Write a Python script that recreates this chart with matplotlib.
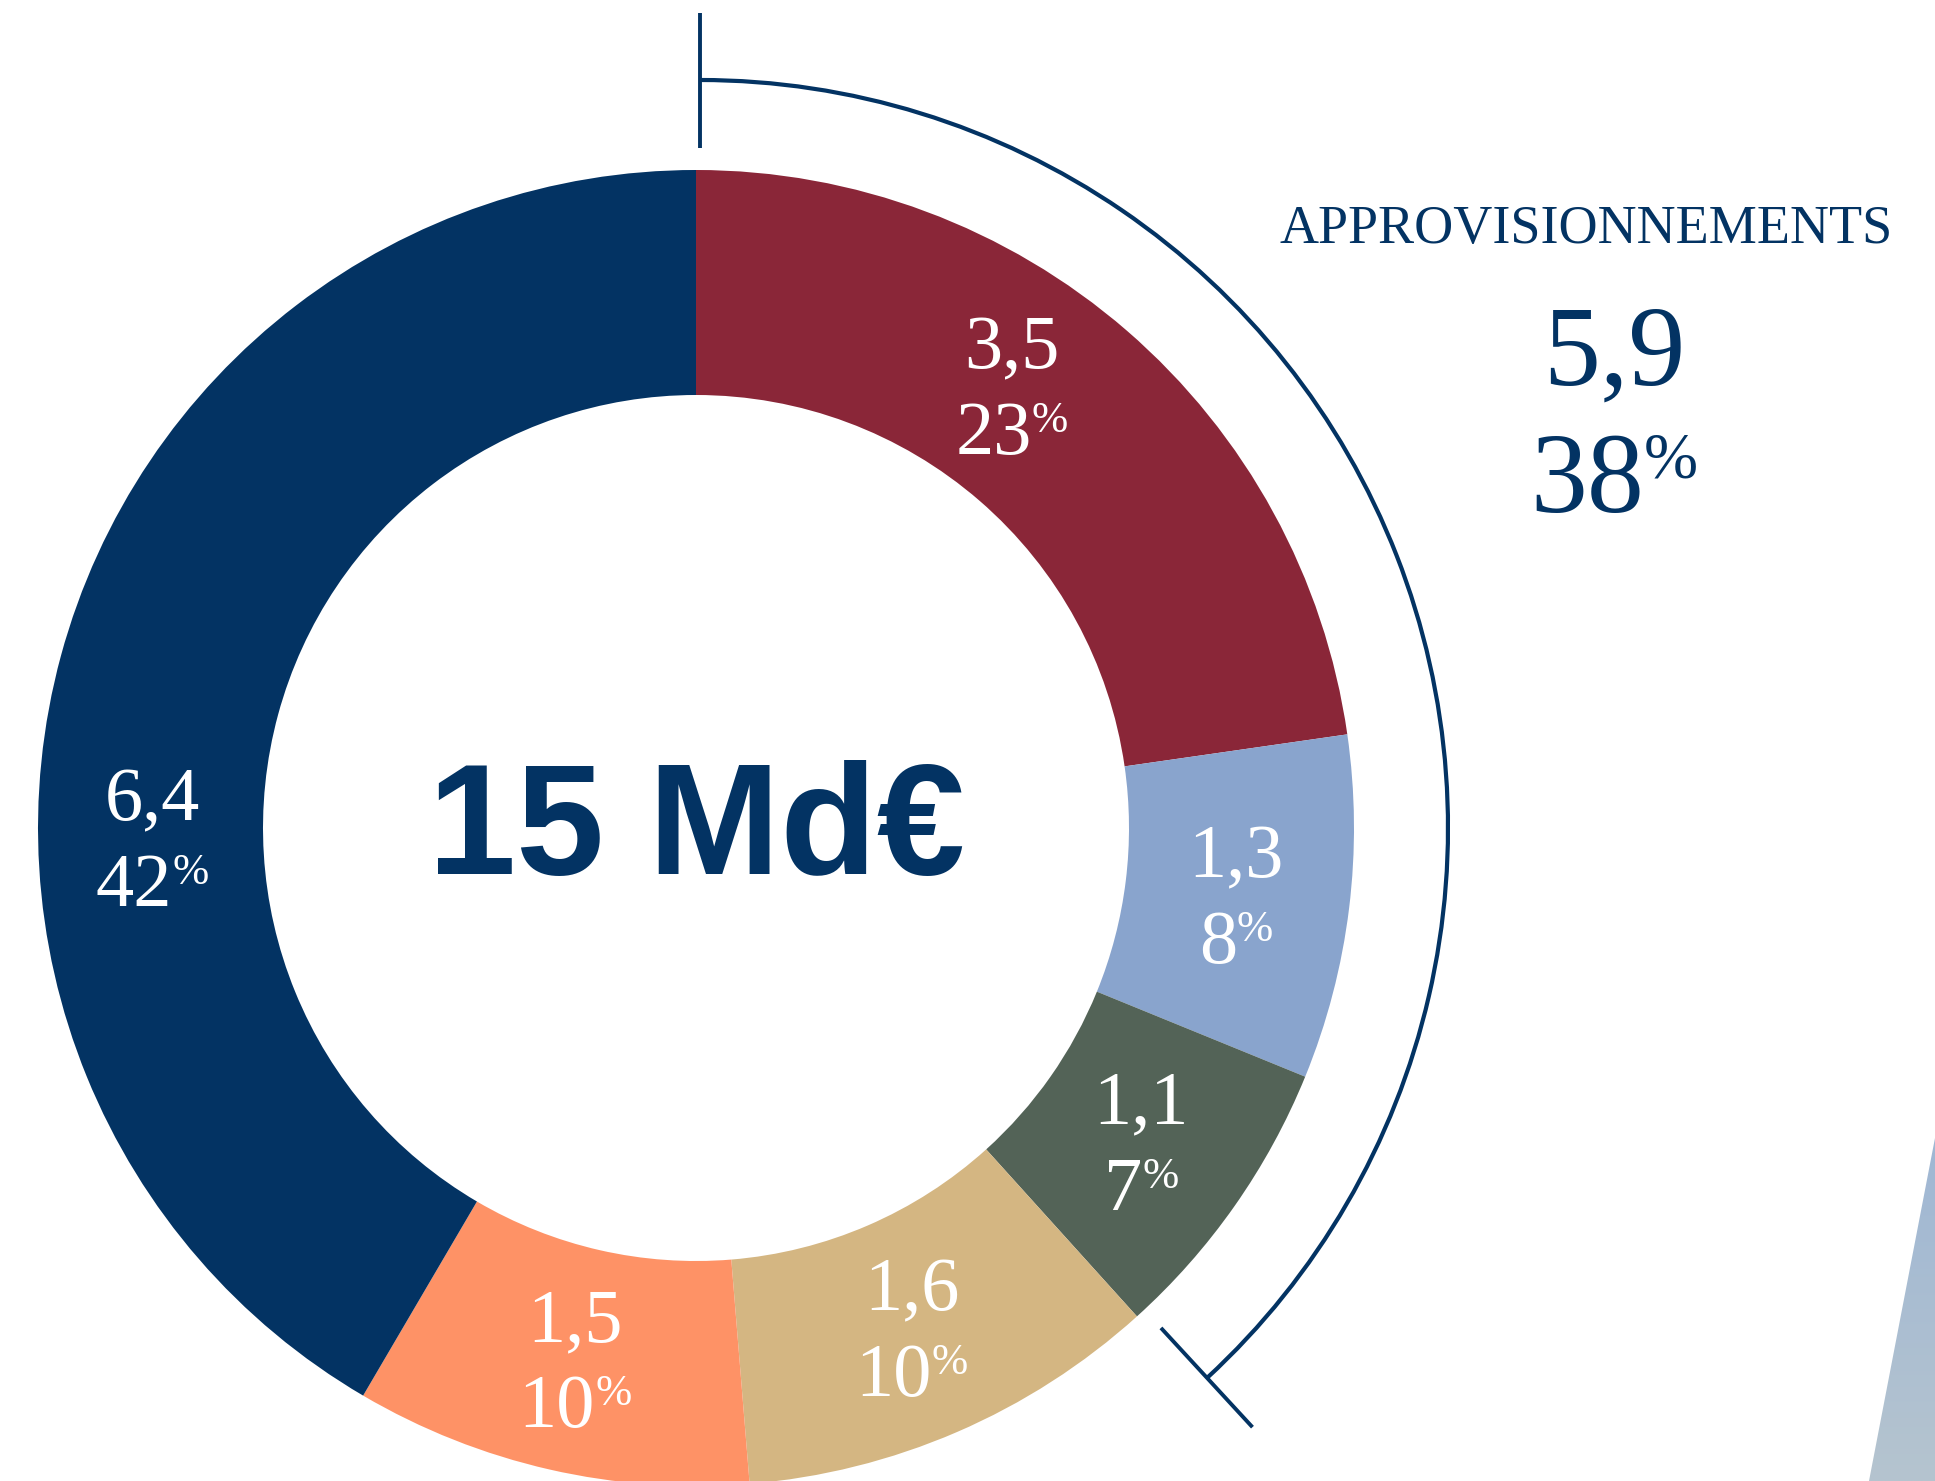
import numpy as np
import matplotlib
matplotlib.use("Agg")
import matplotlib.pyplot as plt
from matplotlib.patches import Arc, Polygon
from matplotlib.colors import LinearSegmentedColormap

plt.rcParams['font.family'] = ['Liberation Serif', 'DejaVu Serif']

# data (Md€)
categories = ["a", "b", "c", "d", "e", "f"]
values = [3.5, 1.3, 1.1, 1.6, 1.5, 6.4]
value_labels = ["3,5", "1,3", "1,1", "1,6", "1,5", "6,4"]
pct_labels = ["23", "8", "7", "10", "10", "42"]
colors = ["#8a2638", "#89a4cd", "#536357", "#d4b682", "#fe9266", "#033363"]
total_label = "15 Md€"
group_title = "APPROVISIONNEMENTS"
group_value = "5,9"
group_pct = "38"
group_size = 3  # first three slices

NAVY = "#033363"
W, H = 1935, 1481

fig = plt.figure(figsize=(W / 100, H / 100), dpi=100)
ax = fig.add_axes([0, 0, 1, 1])

cx, cy = 696, 653
r_out, r_in = 658, 433

wedges, _ = ax.pie(values, colors=colors, startangle=90, counterclock=False,
                   radius=r_out, center=(cx, cy),
                   wedgeprops=dict(width=r_out - r_in, linewidth=0))
ax.set_xlim(0, W)
ax.set_ylim(0, H)
ax.set_aspect('equal')
ax.axis('off')

# bracket around the "approvisionnements" slices
end_angle = wedges[group_size - 1].theta1 + 0.6
r_arc = 748
bx = cx + 4
ax.add_patch(Arc((bx, cy), 2 * r_arc, 2 * r_arc, theta1=end_angle, theta2=90,
                 color=NAVY, lw=3.0))
for ang in (90, end_angle):
    a = np.radians(ang)
    ax.plot([bx + 680 * np.cos(a), bx + 815 * np.cos(a)],
            [cy + 680 * np.sin(a), cy + 815 * np.sin(a)],
            color=NAVY, lw=2.8, solid_capstyle='butt')

renderer = fig.canvas.get_renderer()


def number_pct(x, y, num, size, color):
    t = ax.text(x, y, num, ha='center', va='baseline', fontsize=size, color=color)
    p = ax.annotate('%', xy=(1, 1), xycoords=t, ha='left', va='top',
                    fontsize=size * 0.57, color=color)
    w = p.get_window_extent(renderer).width
    t.set_x(x - w / 2)
    return t, p


# slice labels
r_lab = 544
angle_override = {0: 54.5, 5: 181.0}
for i, w in enumerate(wedges):
    ang = angle_override.get(i, (w.theta1 + w.theta2) / 2)
    a = np.radians(ang)
    lx = cx + r_lab * np.cos(a)
    ly = cy + r_lab * np.sin(a)
    ax.text(lx, ly + 17, value_labels[i], ha='center', va='baseline',
            fontsize=55, color='white')
    number_pct(lx, ly - 69, pct_labels[i], 55, 'white')

# centre total
ax.text(cx, 607, total_label, ha='center', va='baseline', fontsize=114,
        fontweight='bold', family=['Liberation Sans', 'DejaVu Sans'], color=NAVY)

# group annotation
ax.text(1586, 1238, group_title, ha='center', va='baseline', fontsize=39,
        color=NAVY)
ax.text(1614, 1096, group_value, ha='center', va='baseline', fontsize=82,
        color=NAVY)
number_pct(1614, 969, group_pct, 82, NAVY)

# partial wedge of the neighbouring graphic, bottom right
tri = Polygon([(1935, 343), (1869, 0), (1935, 0)], closed=True,
              facecolor='none', edgecolor='none')
ax.add_patch(tri)
grad = np.linspace(0, 1, 256)[:, None]
cmap = LinearSegmentedColormap.from_list('g', ['#b5c4cf', '#9fb7d4'])
im = ax.imshow(grad, extent=(1860, 1935, 0, 345), origin='lower', cmap=cmap,
               aspect='auto', zorder=0)
im.set_clip_path(tri)
ax.set_xlim(0, W)
ax.set_ylim(0, H)

fig.savefig("out.png", dpi=100)
